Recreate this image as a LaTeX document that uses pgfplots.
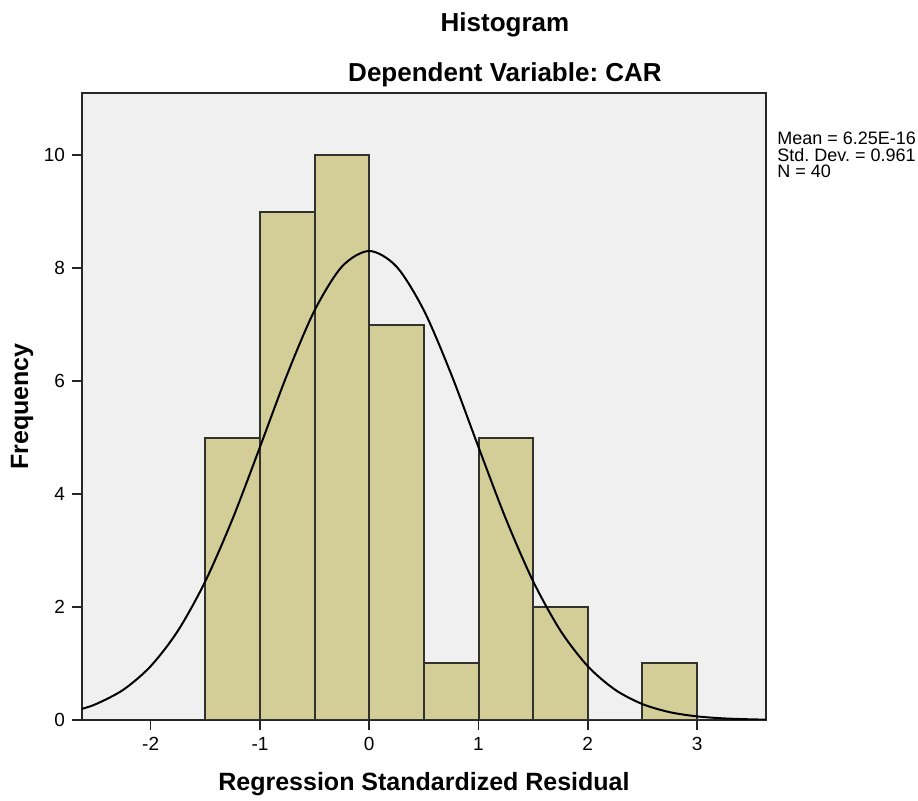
\documentclass[border=0pt]{standalone}
\usepackage{fontspec}
\setmainfont{Liberation Sans}
\usepackage{pgfplots}
\pgfplotsset{compat=1.18}
\definecolor{spssbg}{RGB}{240,240,240}
\definecolor{spssbar}{RGB}{211,206,151}
\definecolor{spssedge}{RGB}{50,50,45}
\frenchspacing

\begin{document}
\begin{tikzpicture}
\useasboundingbox (0,0) rectangle (459pt,400.5pt);
\begin{axis}[
    at={(41pt,40.5pt)}, anchor=south west,
    scale only axis, width=342pt, height=313.5pt,
    xmin=-2.6285, xmax=3.631, ymin=0, ymax=11.1,
    xtick={-2,-1,0,1,2,3}, ytick={0,2,4,6,8,10},
    tick pos=left, tick align=outside, major tick length=5pt,
    axis background/.style={fill=spssbg},
    axis line style={line width=0.75pt, draw=black!85},
    every tick/.style={line width=0.75pt, draw=black!85},
    tick label style={font=\fontsize{9.5}{11}\selectfont},
    /pgf/number format/assume math mode=true,
    xlabel={Regression Standardized Residual},
    ylabel={Frequency},
    label style={font=\bfseries\fontsize{12.5}{15}\selectfont},
    xlabel style={at={(axis description cs:0.5,-0.1132)}, anchor=base},
    ylabel style={at={(axis description cs:-0.0877,0.5)}, anchor=center},
]
% histogram bins (left edges), last point closes the final bin
\addplot[ybar interval, fill=spssbar, draw=spssedge, line width=1pt]
  coordinates {(-1.5,5) (-1,9) (-0.5,10) (0,7) (0.5,1) (1,5) (1.5,2) (2,0) (2.5,1) (3,1)};
% normal curve, mean 0, sd 0.961, N=40, bin width 0.5
\addplot[smooth, black, line width=1pt] coordinates {
  (-2.65,0.1854) (-2.5,0.2817) (-2.25,0.5356) (-2,0.9522) (-1.75,1.5815)
  (-1.5,2.4556) (-1.25,3.5626) (-1,4.8312) (-0.75,6.1225) (-0.5,7.2511)
  (-0.25,8.0258) (0,8.3028) (0.25,8.0258) (0.5,7.2511) (0.75,6.1225)
  (1,4.8312) (1.25,3.5626) (1.5,2.4556) (1.75,1.5815) (2,0.9522)
  (2.25,0.5356) (2.5,0.2817) (2.75,0.1384) (3,0.0635) (3.25,0.0273)
  (3.5,0.0109) (3.65,0.0061)};
\end{axis}
\node[anchor=base, font=\bfseries\fontsize{13}{15}\selectfont] at (252.5pt,384.5pt) {Histogram};
\node[anchor=base, font=\bfseries\fontsize{13}{15}\selectfont] at (252.5pt,359.5pt) {Dependent Variable: CAR};
\begin{scope}[every node/.style={anchor=base west, inner sep=0pt, font=\fontsize{9}{10}\selectfont}]
\node at (388.5pt,328pt) {Mean = 6.25E-16};
\node at (388.5pt,319.75pt) {Std. Dev. = 0.961};
\node at (388.5pt,311.5pt) {N = 40};
\end{scope}
\end{tikzpicture}
\end{document}
